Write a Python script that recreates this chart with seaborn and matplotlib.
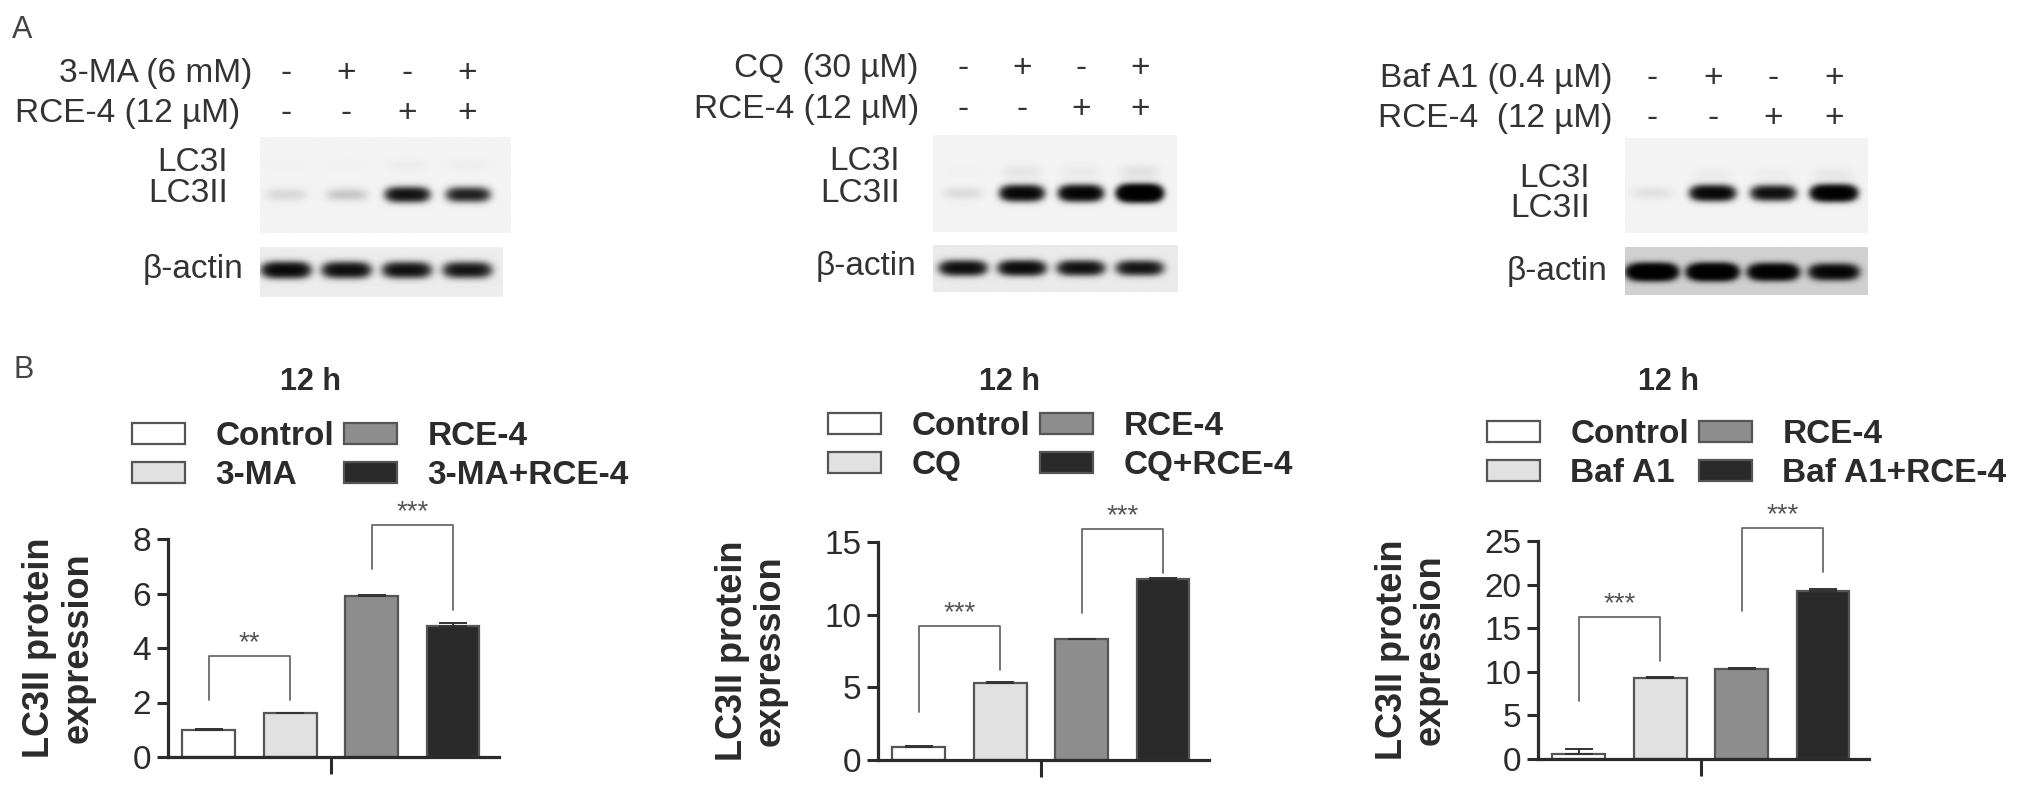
import numpy as np
import pandas as pd
import seaborn as sns
import matplotlib.pyplot as plt
from matplotlib.transforms import blended_transform_factory

W, H = 2031, 790

time_point = "12 h"

# B: LC3II protein expression relative to control (mean, SEM)
ma_groups = ["Control", "3-MA", "RCE-4", "3-MA+RCE-4"]
ma_means = [1.0, 1.6, 5.9, 4.8]
ma_sem = [0.02, 0.03, 0.06, 0.1]
ma_yticks = [0, 2, 4, 6, 8]
ma_sig = [(0, 1, 3.7, 2.1, 2.1, "**"), (2, 3, 8.5, 6.9, 5.4, "***")]

cq_groups = ["Control", "CQ", "RCE-4", "CQ+RCE-4"]
cq_means = [0.92, 5.3, 8.3, 12.45]
cq_sem = [0.02, 0.04, 0.04, 0.04]
cq_yticks = [0, 5, 10, 15]
cq_sig = [(0, 1, 9.2, 3.3, 6.2, "***"), (2, 3, 15.9, 10.1, 12.9, "***")]

baf_groups = ["Control", "Baf A1", "RCE-4", "Baf A1+RCE-4"]
baf_means = [0.6, 9.3, 10.3, 19.3]
baf_sem = [0.55, 0.1, 0.12, 0.2]
baf_yticks = [0, 5, 10, 15, 20, 25]
baf_sig = [(0, 1, 16.3, 6.6, 11.2, "***"), (2, 3, 26.5, 17.0, 21.5, "***")]

lanes = [1, 2, 3, 4]
inh_row = ["-", "+", "-", "+"]
rce_row = ["-", "-", "+", "+"]
ma_lc3ii = [0.12, 0.2, 2.6, 2.0]
ma_lc3i = [0.01, 0.01, 0.025, 0.02]
ma_actin = [3.2, 2.8, 2.6, 2.4]
cq_lc3ii = [0.1, 3.5, 4.0, 7.5]
cq_lc3i = [0.01, 0.06, 0.04, 0.08]
cq_actin = [2.8, 3.0, 2.6, 2.4]
baf_lc3ii = [0.08, 3.5, 2.8, 5.5]
baf_lc3i = [0.005, 0.03, 0.025, 0.05]
baf_actin = [7.0, 7.0, 5.5, 3.8]

bar_colors = ["#ffffff", "#e1e1e1", "#8d8d8d", "#2a2a2a"]
ink = "#2b2b2b"

sns.set_theme(style="ticks")
plt.rcParams["font.family"] = ["Liberation Sans", "DejaVu Sans"]

fig = plt.figure(figsize=(W / 100, H / 100), dpi=100)


def px_axes(l, t, r, b):
    return fig.add_axes([l / W, 1 - b / H, (r - l) / W, (b - t) / H])


def ftext(x, y, s, **kw):
    kw.setdefault("color", "#333333")
    fig.text(x / W, 1 - y / H, s, **kw)


def film(box, lane1, step, rows, bg, width=0.33):
    l, t, r, b = box
    ax = px_axes(l, t, r, b)
    xlim = (1 + (l - lane1) / step, 1 + (r - lane1) / step)
    xs = np.linspace(xlim[0], xlim[1], 600)
    ys = np.linspace(0, 1, 200)
    X, Y = np.meshgrid(xs, ys)
    dens = np.zeros_like(X)
    for strengths, yc, hh in rows:
        for lane, s in zip(lanes, strengths):
            dens += s * np.exp(-np.abs((X - lane) / width) ** 4) * np.exp(-((Y - yc) / hh) ** 2)
    ax.imshow(bg * np.exp(-dens), extent=(xlim[0], xlim[1], 0, 1), origin="lower",
              cmap="gray", vmin=0, vmax=1, aspect="auto", interpolation="bilinear")
    ax.set_xlim(xlim)
    ax.set_ylim(0, 1)
    ax.axis("off")
    return ax


def blot_panel(lc3_box, actin_box, lane1, step, lc3ii, lc3i, actin, band_y, actin_bg,
               header, row_base, header_x, lab_x, lab_base, actin_x, actin_base):
    ax = film(lc3_box, lane1, step, [(lc3ii, band_y[0], 0.065), (lc3i, band_y[1], 0.07)], 0.955)
    film(actin_box, lane1, step, [(actin, band_y[2], 0.13)], actin_bg, width=0.36)
    tr = blended_transform_factory(ax.transData, fig.transFigure)
    for row, base in zip([inh_row, rce_row], row_base):
        for lane, s in zip(lanes, row):
            ax.text(lane, 1 - base / H, s, transform=tr, ha="center", va="baseline",
                    fontsize=24, color="#333333")
    for s, x, base in zip(header, header_x, row_base):
        ftext(x, base, s, ha="right", va="baseline", fontsize=24)
    ftext(lab_x, lab_base[0], "LC3I", ha="right", va="baseline", fontsize=24)
    ftext(lab_x, lab_base[1], "LC3II", ha="right", va="baseline", fontsize=24)
    ftext(actin_x, actin_base, "β-actin", ha="right", va="baseline", fontsize=24)


def bar_panel(left, bottom, groups, means, sem, yticks, sig, leg_xy, title_x, ylab_x):
    ax = fig.add_axes([left / W, 1 - bottom / H, 331 / W, 218 / H])
    df = pd.DataFrame({"time": time_point, "group": groups, "value": means})
    sns.barplot(data=df, x="time", y="value", hue="group", hue_order=groups,
                palette=bar_colors, width=0.8, gap=0.35, errorbar=None,
                edgecolor="#555555", linewidth=1.6, ax=ax)
    centers = [c.patches[0].get_x() + c.patches[0].get_width() / 2 for c in ax.containers]
    ax.errorbar(centers, means, yerr=[np.zeros(len(sem)), sem], fmt="none",
                ecolor="#333333", elinewidth=1.4, capsize=10, capthick=1.4)

    for i, j, top, yi, yj, lab in sig:
        ax.plot([centers[i], centers[i], centers[j], centers[j]], [yi, top, top, yj],
                color="#6a6a6a", lw=1.3, clip_on=False)
        ax.text((centers[i] + centers[j]) / 2, top, lab, ha="center", va="bottom",
                fontsize=20, color="#555555", clip_on=False)

    ax.set_xlim(-0.40, 0.413)
    ax.set_ylim(0, yticks[-1])
    ax.set_yticks(yticks)
    ax.set_xticks([0])
    ax.set_xticklabels([""])
    ax.set_xlabel("")
    ax.tick_params(axis="y", length=8, width=2.2, pad=4, labelsize=24, colors=ink)
    ax.tick_params(axis="x", length=12, width=2.2, colors=ink)
    sns.despine(ax=ax)
    for side in ["left", "bottom"]:
        ax.spines[side].set_linewidth(2.3)
        ax.spines[side].set_color(ink)

    ax.set_ylabel("LC3II protein\nexpression", fontsize=26, fontweight="bold", color=ink,
                  linespacing=1.1)
    ax.yaxis.set_label_coords(ylab_x, 0.5)

    sns.move_legend(ax, "upper left", bbox_to_anchor=(leg_xy[0] / W, 1 - leg_xy[1] / H),
                    bbox_transform=fig.transFigure, ncol=2, title=None, frameon=False,
                    prop={"size": 24, "weight": "bold"}, labelcolor=ink,
                    handlelength=1.6, handleheight=0.6, handletextpad=0.9,
                    columnspacing=0.3, labelspacing=0.25, borderpad=0, borderaxespad=0)

    ftext(title_x, 390, time_point, ha="center", va="baseline", fontsize=22,
          fontweight="bold", color=ink)
    return ax


# panel letters
ftext(12, 38, "A", fontsize=22, va="baseline", color="#444444")
ftext(13, 378, "B", fontsize=22, va="baseline", color="#444444")

# A: western blots
blot_panel((260, 137, 510, 233), (260, 247, 503, 297), 286, 60.5,
           ma_lc3ii, ma_lc3i, ma_actin, (0.40, 0.71, 0.54), 0.93,
           ["3-MA (6 mM)", "RCE-4 (12 µM)"], (82, 122), (252, 240),
           228, (171, 202), 243, 278)
blot_panel((933, 135, 1177, 232), (933, 245, 1178, 292), 963, 59,
           cq_lc3ii, cq_lc3i, cq_actin, (0.40, 0.62, 0.51), 0.92,
           ["CQ  (30 µM)", "RCE-4 (12 µM)"], (77, 118), (919, 919),
           900, (170, 202), 916, 275)
blot_panel((1625, 138, 1868, 233), (1625, 247, 1868, 295), 1652, 60.7,
           baf_lc3ii, baf_lc3i, baf_actin, (0.42, 0.62, 0.48), 0.82,
           ["Baf A1 (0.4 µM)", "RCE-4  (12 µM)"], (87, 127), (1613, 1613),
           1590, (187, 217), 1607, 280)

# B: quantification
bar_panel(168, 757, ma_groups, ma_means, ma_sem, ma_yticks, ma_sig, (132, 421), 311, -0.22)
bar_panel(878, 760, cq_groups, cq_means, cq_sem, cq_yticks, cq_sig, (828, 411), 1010, -0.272)
bar_panel(1538, 759, baf_groups, baf_means, baf_sem, baf_yticks, baf_sig, (1487, 419), 1668, -0.272)

fig.savefig("out.png", dpi=100)
